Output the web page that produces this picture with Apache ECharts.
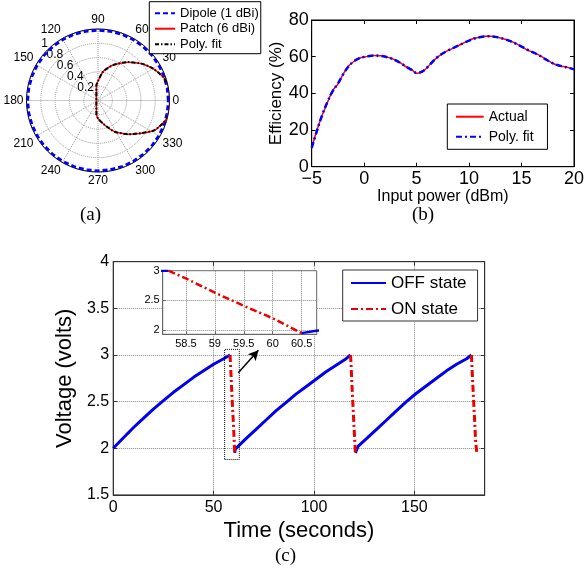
<!DOCTYPE html>
<html><head><meta charset="utf-8">
<script src="https://cdn.jsdelivr.net/npm/echarts@6/dist/echarts.min.js"></script>
<style>html,body{margin:0;padding:0;background:#fff}#c{width:587px;height:570px}</style>
</head><body><div id="c"></div>
<script>
// ---------- (a) radiation pattern ----------
const dipoleAngles = [0,10,20,30,40,50,60,70,80,90,100,110,120,130,140,150,160,170,180,190,200,210,220,230,240,250,260,270,280,290,300,310,320,330,340,350,360];
const dipoleGain = [0.985,0.985,0.985,0.985,0.985,0.985,0.985,0.985,0.985,0.985,0.985,0.985,0.985,0.985,0.985,0.985,0.985,0.985,0.985,0.985,0.985,0.985,0.985,0.985,0.985,0.985,0.985,0.985,0.985,0.985,0.985,0.985,0.985,0.985,0.985,0.985,0.985];
const patchAngles = [0,7,14,20,30,40,52,67,80,90,96,100,110,120,135,150,165,180,195,210,225,240,250,260,264,270,285,298,312,323,332,341,347,354,360];
const patchGain = [1.01,1.01,1.005,0.968,0.89,0.80,0.68,0.54,0.41,0.27,0.22,0.13,0.067,0.046,0.033,0.027,0.024,0.023,0.024,0.027,0.033,0.046,0.067,0.13,0.2,0.25,0.355,0.494,0.633,0.76,0.891,0.963,1.005,1.008,1.01];
const fitGain = [1.012,1.008,1.0,0.965,0.892,0.802,0.682,0.538,0.412,0.272,0.215,0.128,0.066,0.045,0.033,0.027,0.024,0.023,0.024,0.027,0.033,0.045,0.066,0.128,0.2,0.252,0.353,0.495,0.635,0.758,0.889,0.965,1.002,1.008,1.012];

// ---------- (b) efficiency ----------
const powerDbm = [-5,-4.5,-4,-3.5,-3,-2.5,-2,-1.5,-1,-0.5,0,0.5,1,1.5,2,2.5,3,3.5,4,4.5,5,5.5,6,6.5,7,7.5,8,8.5,9,9.5,10,10.5,11,11.5,12,12.5,13,13.5,14,14.5,15,15.5,16,16.5,17,17.5,18,18.5,19,19.5,20];
const effActual = [10,20,28,35,41.5,45,50.5,54.8,57.3,59,59.8,60.3,60.6,60.5,60.1,59.2,58.2,56.5,54.5,53.1,51,51.6,54,57.2,59.8,61.8,63.4,64.7,66.1,67.5,68.9,70,70.6,71.1,71.2,70.8,70.2,69.4,68.4,67.1,65.5,63.8,62.6,61.4,59.7,57.9,56.3,55.2,54.6,54,53.2];
const effFit = [10.3,19.6,28.2,35.3,41.2,45.4,50.3,54.6,57.4,59.1,59.9,60.4,60.6,60.5,60.0,59.2,58.0,56.4,54.6,52.9,51.2,51.8,54.1,57.1,59.8,61.8,63.4,64.8,66.1,67.5,68.8,69.9,70.6,71.0,71.1,70.8,70.2,69.4,68.3,67.0,65.5,64.0,62.6,61.3,59.6,57.9,56.4,55.3,54.6,53.9,53.1];

// ---------- (c) voltage ----------
const offTime = [0,5,10,15,20,25,30,35,40,45,50,55,58.2,null,60.5,60.75,61,66,71,76,81,86,91,96,101,106,111,116,118.2,null,120.6,121.9,126,131,136,141,146,151,156,161,166,171,176,178.4];
const offVolt = [2.0,2.11,2.22,2.32,2.42,2.51,2.6,2.68,2.76,2.83,2.9,2.96,3.0,null,1.95,1.99,2.0,2.1,2.2,2.3,2.4,2.49,2.58,2.66,2.74,2.82,2.89,2.96,3.0,null,1.95,2.02,2.1,2.2,2.3,2.4,2.5,2.59,2.67,2.75,2.83,2.9,2.96,3.0];
const onTime = [58.2,58.5,59,59.5,60,60.5,null,118.2,118.5,119,119.5,120,120.6,null,178.4,179,179.5,180,180.5,181.2];
const onVolt = [3.0,2.87,2.63,2.41,2.2,1.95,null,3.0,2.87,2.63,2.41,2.2,1.95,null,3.0,2.72,2.5,2.29,2.07,1.93];
const zoomBoxT = [55.5,62.8,62.8,55.5,55.5];
const zoomBoxV = [1.88,1.88,3.06,3.06,1.88];
const arrowFrom = [62.3,2.81];
const arrowTo = [72.3,3.05];

const FONT = 'Liberation Sans, Arial, sans-serif';
const SERIF = 'Liberation Serif, Times New Roman, serif';
const pairs = (xs, ys) => xs.map((x, i) => (x == null || ys[i] == null) ? ['-', '-'] : [x, ys[i]]);
const polarPairs = (angs, rs) => angs.map((a, i) => [rs[i], a]);

const chart = echarts.init(document.getElementById('c'), null, {renderer: 'canvas'});
const tickStyle = c => ({inside: true, length: 4, lineStyle: {color: c}});
const lbl = (size, extra) => Object.assign({fontSize: size, color: '#000', fontFamily: FONT}, extra || {});
const noSymbol = {opacity: 0, borderWidth: 0};
const frameAxis = (grid, pos, min, max, interval, color) => ({
  gridIndex: grid, type: 'value', position: pos, min: min, max: max, interval: interval,
  axisLine: {show: true, onZero: false, lineStyle: {color: color}}, axisTick: tickStyle(color),
  axisLabel: {show: false}, splitLine: {show: false}
});
const hiddenAngle = idx => ({polarIndex: idx, type: 'value', min: 0, max: 360, startAngle: 133, clockwise: false,
  axisLine: {show: false}, axisTick: {show: false}, axisLabel: {show: false}, splitLine: {show: false}});
const radialLabels = v => v <= 0.001 ? '' : String(Math.round(v * 10) / 10);

chart.setOption({
  animation: false,
  backgroundColor: '#fff',
  textStyle: {fontFamily: FONT},
  title: [
    {text: '(a)', left: 80, top: 206, padding: 0, textStyle: {fontFamily: SERIF, fontSize: 19, fontWeight: 'normal', color: '#000'}},
    {text: '(b)', left: 412, top: 206, padding: 0, textStyle: {fontFamily: SERIF, fontSize: 19, fontWeight: 'normal', color: '#000'}},
    {text: '(c)', left: 275, top: 547, padding: 0, textStyle: {fontFamily: SERIF, fontSize: 19, fontWeight: 'normal', color: '#000'}}
  ],
  polar: [
    {center: [98, 100.5], radius: 71.5},
    {center: [98, 100.5], radius: 70.7},
    {center: [98, 100.5], radius: [74.4, 78.2]}
  ],
  angleAxis: [
    {polarIndex: 0, type: 'value', min: 0, max: 360, interval: 30, startAngle: 0, clockwise: false,
     axisLine: {lineStyle: {color: '#000', width: 1}}, axisTick: {show: false},
     axisLabel: lbl(12, {margin: 3, formatter: v => v === 360 ? '' : String(v)}),
     splitLine: {show: true, lineStyle: {color: '#999', type: 'dotted'}}},
    hiddenAngle(1),
    hiddenAngle(2)
  ],
  radiusAxis: [
    {polarIndex: 0, type: 'value', min: 0, max: 1, interval: 0.2,
     axisLine: {show: false}, axisTick: {show: false}, axisLabel: {show: false},
     splitLine: {show: true, lineStyle: {color: '#999', type: 'dotted'}}},
    {polarIndex: 1, type: 'value', min: -0.04, max: 0.9, splitNumber: 5,
     axisLine: {show: false}, axisTick: {show: false}, splitLine: {show: false},
     axisLabel: lbl(12, {margin: 0, align: 'center', verticalAlign: 'middle', rotate: 0, interval: 0,
       showMaxLabel: false, showMinLabel: false, formatter: radialLabels})},
    {polarIndex: 2, type: 'value', min: 0.95, max: 1, interval: 0.05,
     axisLine: {show: false}, axisTick: {show: false}, splitLine: {show: false},
     axisLabel: lbl(12, {margin: 0, align: 'center', verticalAlign: 'middle', rotate: 0, interval: 0,
       showMinLabel: false, formatter: v => v > 0.99 ? '1' : ''})}
  ],
  legend: [
    {id: 'la', data: ['Dipole (1 dBi)', 'Patch (6 dBi)', 'Poly. fit'], orient: 'vertical', left: 149.3, top: 1.7,
     itemWidth: 20, itemHeight: 10, itemGap: 2.5, padding: [5, 2, 3, 4.7], backgroundColor: '#fff',
     borderColor: '#000', borderWidth: 1, borderRadius: 0, selectedMode: false, textStyle: lbl(13), itemStyle: noSymbol},
    {id: 'lb', data: ['Actual', 'Poly. fit '], orient: 'vertical', left: 447.3, top: 104,
     itemWidth: 27.7, itemHeight: 10, itemGap: 6, padding: [5.7, 10, 5.6, 7.7], backgroundColor: '#fff',
     borderColor: '#000', borderWidth: 1, borderRadius: 0, selectedMode: false, textStyle: lbl(14), itemStyle: noSymbol},
    {id: 'lc', data: ['OFF state', 'ON state'], orient: 'vertical', left: 342.7, top: 270,
     itemWidth: 35, itemHeight: 10, itemGap: 9, padding: [4.5, 11, 3.5, 7.3], backgroundColor: '#fff',
     borderColor: '#333', borderWidth: 1, borderRadius: 0, selectedMode: false, textStyle: lbl(17), itemStyle: noSymbol}
  ],
  grid: [
    {left: 311.7, top: 20, width: 265.6, height: 146.7, show: true, borderColor: '#000', borderWidth: 1, backgroundColor: 'transparent'},
    {left: 113.2, top: 261.7, width: 371.5, height: 233.2, show: true, borderColor: '#333', borderWidth: 1, backgroundColor: 'transparent'},
    {left: 162.7, top: 270.7, width: 154, height: 63.6, show: true, borderColor: '#666', borderWidth: 1, backgroundColor: '#fff', z: 5}
  ],
  xAxis: [
    {gridIndex: 0, type: 'value', position: 'bottom', min: -5, max: 20, interval: 5,
     axisLine: {onZero: false, lineStyle: {color: '#000'}}, axisTick: tickStyle('#000'),
     axisLabel: lbl(18, {margin: 3, formatter: v => v < 0 ? '\u2212' + Math.abs(v) : String(v)}),
     splitLine: {show: false},
     name: 'Input power (dBm)', nameLocation: 'middle', nameGap: 20, nameTextStyle: lbl(16)},
    {gridIndex: 1, type: 'value', position: 'bottom', min: 0, max: 185, interval: 50,
     axisLine: {onZero: false, lineStyle: {color: '#333'}}, axisTick: tickStyle('#333'),
     axisLabel: lbl(16, {margin: 5, showMaxLabel: false}),
     splitLine: {show: true, lineStyle: {color: '#888', type: 'dotted'}},
     name: 'Time (seconds)', nameLocation: 'middle', nameGap: 25, nameTextStyle: lbl(22)},
    {gridIndex: 2, type: 'value', position: 'bottom', min: 58.1, max: 60.76, splitNumber: 5, z: 6,
     axisLine: {onZero: false, lineStyle: {color: '#666'}}, axisTick: {inside: true, length: 3, lineStyle: {color: '#666'}},
     axisLabel: lbl(11, {margin: 4, showMinLabel: false, showMaxLabel: false}),
     splitLine: {show: true, lineStyle: {color: '#888', type: 'dotted'}}},
    frameAxis(0, 'top', -5, 20, 5, '#000'),
    frameAxis(1, 'top', 0, 185, 50, '#333')
  ],
  yAxis: [
    {gridIndex: 0, type: 'value', position: 'left', min: 0, max: 80, interval: 20,
     axisLine: {onZero: false, lineStyle: {color: '#000'}}, axisTick: tickStyle('#000'),
     axisLabel: lbl(18, {margin: 3}), splitLine: {show: false},
     name: 'Efficiency (%)', nameLocation: 'middle', nameGap: 25, nameRotate: 90, nameTextStyle: lbl(17)},
    {gridIndex: 1, type: 'value', position: 'left', min: 1.5, max: 4, interval: 0.5,
     axisLine: {onZero: false, lineStyle: {color: '#333'}}, axisTick: tickStyle('#333'),
     axisLabel: lbl(16, {margin: 4}),
     splitLine: {show: true, lineStyle: {color: '#888', type: 'dotted'}},
     name: 'Voltage (volts)', nameLocation: 'middle', nameGap: 27, nameRotate: 90, nameTextStyle: lbl(22)},
    {gridIndex: 2, type: 'value', position: 'left', min: 1.93, max: 3.0, splitNumber: 2, z: 6,
     axisLine: {onZero: false, lineStyle: {color: '#666'}}, axisTick: {inside: true, length: 3, lineStyle: {color: '#666'}},
     axisLabel: lbl(11, {margin: 3, showMinLabel: false}),
     splitLine: {show: true, lineStyle: {color: '#888', type: 'dotted'}}},
    frameAxis(0, 'right', 0, 80, 20, '#000'),
    frameAxis(1, 'right', 1.5, 4, 0.5, '#333')
  ],
  series: [
    // (a)
    {name: 'Dipole (1 dBi)', type: 'line', coordinateSystem: 'polar', polarIndex: 0, symbol: 'none',
     data: polarPairs(dipoleAngles, dipoleGain), lineStyle: {color: '#0000ff', width: 3, type: [5, 3]}, itemStyle: {color: '#0000ff'}},
    {name: 'Patch (6 dBi)', type: 'line', coordinateSystem: 'polar', polarIndex: 0, symbol: 'none', smooth: 0.2,
     data: polarPairs(patchAngles, patchGain), lineStyle: {color: '#ff0000', width: 1.5}, itemStyle: {color: '#ff0000'}},
    {name: 'Poly. fit', type: 'line', coordinateSystem: 'polar', polarIndex: 0, symbol: 'none', smooth: 0.2,
     data: polarPairs(patchAngles, fitGain), lineStyle: {color: '#000', width: 2, type: [4, 2, 1.5, 2]}, itemStyle: {color: '#000'}},
    // (b)
    {name: 'Actual', type: 'line', xAxisIndex: 0, yAxisIndex: 0, symbol: 'none', smooth: 0.4,
     data: pairs(powerDbm, effActual), lineStyle: {color: '#ff0000', width: 1.5}, itemStyle: {color: '#ff0000'}},
    {name: 'Poly. fit ', type: 'line', xAxisIndex: 0, yAxisIndex: 0, symbol: 'none', smooth: 0.4,
     data: pairs(powerDbm, effFit), lineStyle: {color: '#0000ff', width: 2.5, type: [6, 3, 2, 3]}, itemStyle: {color: '#0000ff'}},
    // (c) main
    {name: 'OFF state', type: 'line', xAxisIndex: 1, yAxisIndex: 1, symbol: 'none', connectNulls: false,
     data: pairs(offTime, offVolt), lineStyle: {color: '#0000ee', width: 3}, itemStyle: {color: '#0000ee'}},
    {name: 'ON state', type: 'line', xAxisIndex: 1, yAxisIndex: 1, symbol: 'none', connectNulls: false,
     data: pairs(onTime, onVolt), lineStyle: {color: '#ee0000', width: 3, type: [7, 3, 2, 3]}, itemStyle: {color: '#ee0000'}},
    {name: 'zoom box', type: 'line', xAxisIndex: 1, yAxisIndex: 1, symbol: 'none', silent: true,
     data: pairs(zoomBoxT, zoomBoxV), lineStyle: {color: '#000', width: 1, type: 'dotted'},
     markLine: {silent: true, symbol: ['none', 'arrow'], symbolSize: [8, 10], label: {show: false},
       lineStyle: {color: '#000', width: 1.5, type: 'solid'},
       data: [[{coord: arrowFrom}, {coord: arrowTo}]]}},
    // (c) inset
    {name: 'OFF state', type: 'line', xAxisIndex: 2, yAxisIndex: 2, symbol: 'none', z: 7, connectNulls: false,
     data: pairs(offTime, offVolt), lineStyle: {color: '#0000ee', width: 2.5}, itemStyle: {color: '#0000ee'}},
    {name: 'ON state', type: 'line', xAxisIndex: 2, yAxisIndex: 2, symbol: 'none', z: 7, connectNulls: false,
     data: pairs(onTime, onVolt), lineStyle: {color: '#ee0000', width: 2.5, type: [7, 3, 2, 3]}, itemStyle: {color: '#ee0000'}}
  ]
});
</script></body></html>
